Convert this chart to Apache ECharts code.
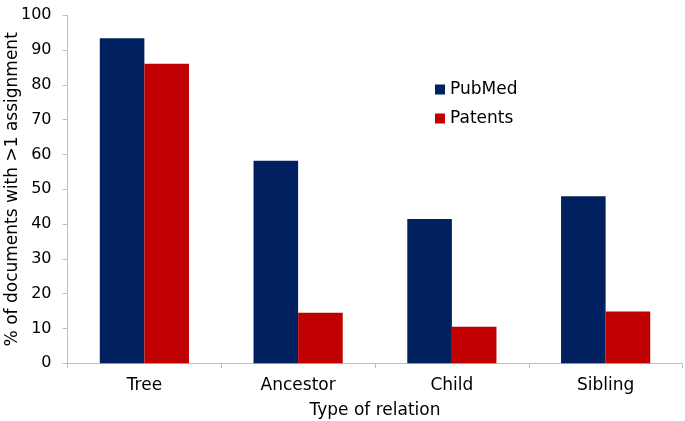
<!DOCTYPE html>
<html>
<head>
<meta charset="utf-8">
<script src="https://cdn.jsdelivr.net/npm/echarts@6/dist/echarts.min.js"></script>
<style>html,body{margin:0;padding:0;background:#fff;}#c{width:685px;height:421px;}</style>
</head>
<body>
<div id="c"></div>
<script>
const categories = ['Tree', 'Ancestor', 'Child', 'Sibling'];
const pubmed = [93.4, 58.2, 41.5, 48.0];
const patents = [86.1, 14.5, 10.5, 14.9];
const yTicks = [0, 10, 20, 30, 40, 50, 60, 70, 80, 90, 100];

const font = 'DejaVu Sans';
const chart = echarts.init(document.getElementById('c'), null, {renderer: 'canvas'});
chart.setOption({
  animation: false,
  backgroundColor: '#ffffff',
  textStyle: {fontFamily: font},
  grid: {left: 67.5, right: 2.5, top: 15.3, bottom: 57.7, containLabel: false, outerBoundsMode: 'none'},
  legend: {
    orient: 'vertical', left: 435, top: 81, padding: 0, itemWidth: 10, itemHeight: 10, itemGap: 12,
    icon: 'rect',
    textStyle: {fontFamily: font, fontSize: 17, color: '#000'},
    data: ['PubMed', 'Patents']
  },
  xAxis: {
    type: 'category', data: categories,
    name: 'Type of relation', nameLocation: 'middle', nameGap: 39, nameMoveOverlap: false,
    nameTextStyle: {fontFamily: font, fontSize: 17, color: '#000'},
    axisLine: {lineStyle: {color: '#bfbfbf', width: 1}},
    axisTick: {show: true, length: 5, lineStyle: {color: '#bfbfbf'}},
    axisLabel: {fontFamily: font, fontSize: 17, color: '#000', margin: 14}
  },
  yAxis: {
    type: 'value', min: yTicks[0], max: yTicks[yTicks.length - 1], interval: 10,
    name: '% of documents with >1 assignment', nameLocation: 'middle', nameGap: 46, nameMoveOverlap: false,
    nameTextStyle: {fontFamily: font, fontSize: 17, color: '#000'},
    axisLine: {show: true, lineStyle: {color: '#bfbfbf', width: 1}},
    axisTick: {show: true, length: 5, lineStyle: {color: '#bfbfbf'}},
    splitLine: {show: false},
    axisLabel: {fontFamily: font, fontSize: 16, color: '#000', margin: 16}
  },
  series: [
    {name: 'PubMed', type: 'bar', data: pubmed, itemStyle: {color: '#002060'}, barGap: '0%', barCategoryGap: '42%'},
    {name: 'Patents', type: 'bar', data: patents, itemStyle: {color: '#c00000'}, barGap: '0%', barCategoryGap: '42%'}
  ]
});
</script>
</body>
</html>
